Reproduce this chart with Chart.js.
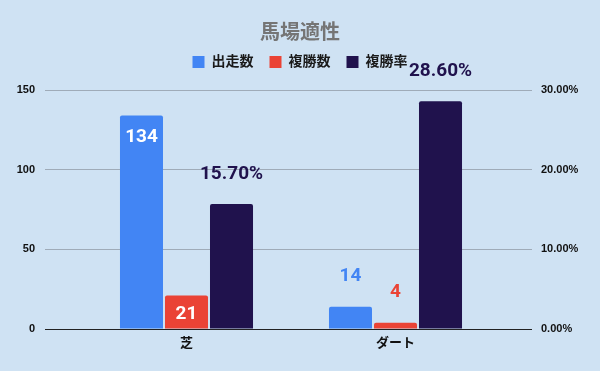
<!DOCTYPE html>
<html>
<head>
<meta charset="utf-8">
<script src="https://cdn.jsdelivr.net/npm/chart.js@4"></script>
<style>
  html, body { margin: 0; padding: 0; background: #cfe2f3; }
  #wrap { width: 600px; height: 371px; }
</style>
</head>
<body>
<div id="wrap"><canvas id="chart"></canvas></div>
<script>
const categories = ["芝", "ダート"];
const starts = [134, 14];          // 出走数
const placeCounts = [21, 4];       // 複勝数
const placeRates = [0.157, 0.286]; // 複勝率
const seriesNames = ["出走数", "複勝数", "複勝率"];

const FONT = "Roboto, 'Noto Sans CJK JP', sans-serif";
const AXIS_FONT = "'Liberation Sans', Arial, sans-serif";

// value labels drawn on or above each bar
const valueLabels = {
  id: "valueLabels",
  afterDatasetsDraw(chart) {
    const ctx = chart.ctx;
    ctx.save();
    ctx.font = "bold 19px " + FONT;
    ctx.textAlign = "center";
    ctx.textBaseline = "middle";
    chart.data.datasets.forEach((ds, i) => {
      const meta = chart.getDatasetMeta(i);
      meta.data.forEach((bar, j) => {
        const v = ds.data[j];
        const isRate = ds.yAxisID === "y2";
        const text = isRate ? (v * 100).toFixed(2) + "%" : String(v);
        const h = bar.base - bar.y;
        const inside = !isRate && h > 28;
        ctx.fillStyle = inside ? "#ffffff" : ds.backgroundColor;
        const y = inside ? Math.min(bar.y + 22, (bar.y + bar.base) / 2 + 2) : bar.y - 30;
        ctx.fillText(text, bar.x, y);
      });
    });
    ctx.restore();
  }
};

// extra room between the legend and the plot
const legendSpacing = {
  id: "legendSpacing",
  beforeLayout(chart) {
    const legend = chart.legend;
    if (legend && !legend._extraSpace) {
      const fit = legend.fit;
      legend.fit = function () {
        fit.call(this);
        this.height += 11;
      };
      legend._extraSpace = true;
    }
  }
};

const gridColor = (c) => (c.tick && c.tick.value === 0 ? "#222222" : "#9fabb8");

new Chart(document.getElementById("chart"), {
  type: "bar",
  data: {
    labels: categories,
    datasets: [
      { label: seriesNames[0], data: starts, backgroundColor: "#4285f4", yAxisID: "y" },
      { label: seriesNames[1], data: placeCounts, backgroundColor: "#ea4335", yAxisID: "y" },
      { label: seriesNames[2], data: placeRates, backgroundColor: "#20124d", yAxisID: "y2" }
    ]
  },
  options: {
    responsive: true,
    maintainAspectRatio: false,
    animation: false,
    datasets: {
      bar: { categoryPercentage: 0.646, barPercentage: 0.956, borderRadius: 2, borderSkipped: "bottom" }
    },
    layout: { padding: 0 },
    plugins: {
      title: {
        display: true,
        text: "馬場適性",
        color: "#757575",
        font: { family: FONT, size: 20, weight: "bold" },
        padding: { top: 22, bottom: -7 }
      },
      legend: {
        position: "top",
        labels: {
          boxWidth: 12,
          boxHeight: 12,
          padding: 16,
          color: "#1a1a1a",
          font: { family: FONT, size: 14, weight: "bold" }
        }
      },
      tooltip: { enabled: false }
    },
    scales: {
      x: {
        grid: { display: false, drawTicks: false },
        border: { display: false },
        ticks: { color: "#111111", padding: 7, font: { family: FONT, size: 13, weight: "bold" } },
        afterFit(scale) { scale.height = 42; }
      },
      y: {
        position: "left",
        min: 0,
        max: 150,
        ticks: { stepSize: 50, padding: 10, color: "#111111", font: { family: AXIS_FONT, size: 11, weight: "bold" } },
        grid: { color: gridColor, tickLength: 37, tickColor: gridColor },
        border: { display: false },
        afterFit(scale) { scale.width = 82; }
      },
      y2: {
        position: "right",
        min: 0,
        max: 0.3,
        ticks: {
          stepSize: 0.1,
          padding: 9,
          color: "#111111",
          font: { family: AXIS_FONT, size: 11, weight: "bold" },
          callback: (v) => (v * 100).toFixed(2) + "%"
        },
        grid: { drawOnChartArea: false, tickLength: 32, color: gridColor, tickColor: gridColor },
        border: { display: false },
        afterFit(scale) { scale.width = 100; }
      }
    }
  },
  plugins: [valueLabels, legendSpacing]
});
</script>
</body>
</html>
